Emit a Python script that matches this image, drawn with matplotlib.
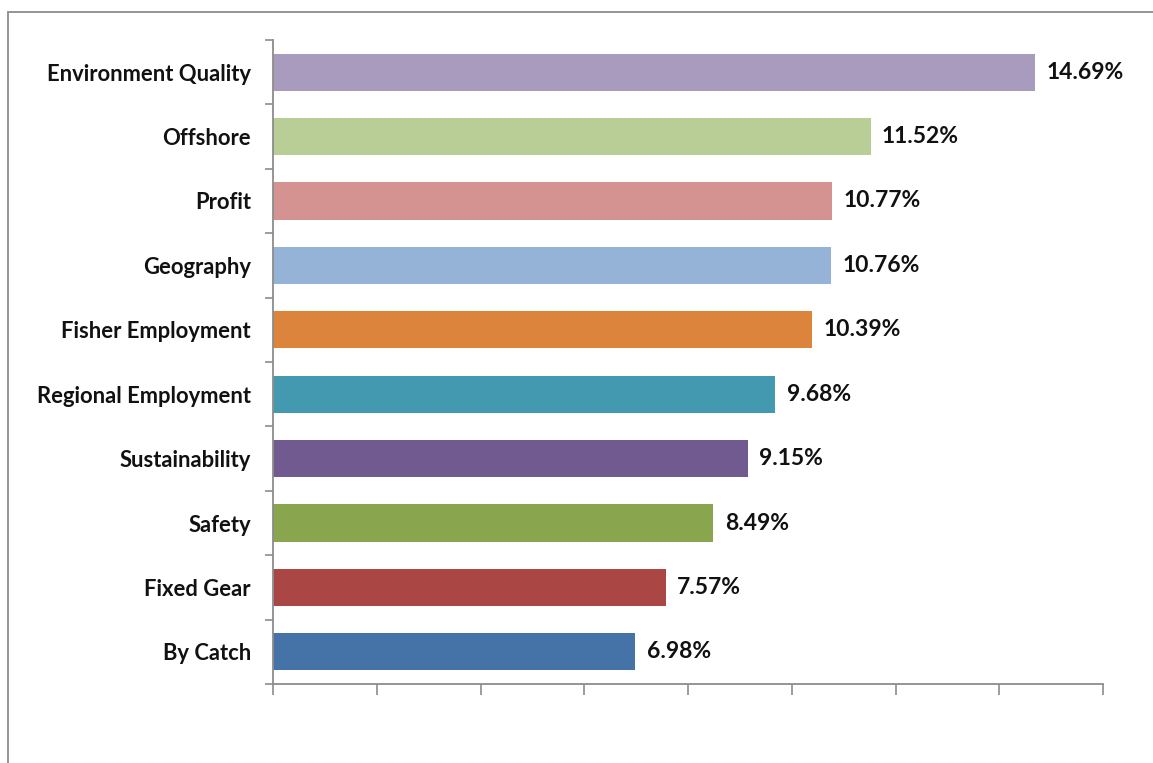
import numpy as np
import matplotlib.pyplot as plt
from matplotlib.patches import Rectangle

# data (top to bottom in the picture)
categories = ["Environment Quality", "Offshore", "Profit", "Geography",
              "Fisher Employment", "Regional Employment", "Sustainability",
              "Safety", "Fixed Gear", "By Catch"]
values = [14.69, 11.52, 10.77, 10.76, 10.39, 9.68, 9.15, 8.49, 7.57, 6.98]
colors = ["#A99BBD", "#B9CD96", "#D49290", "#95B3D7", "#DC843C",
          "#4299B0", "#715A90", "#89A54E", "#AA4643", "#4572A7"]

plt.rcParams['font.family'] = ['Lato', 'DejaVu Sans']

fig = plt.figure(figsize=(11.53, 7.63), dpi=100)
ax = fig.add_axes([273/1153, 1 - 684/763, (1103 - 273)/1153, (684 - 40)/763])

# outer chart frame (cut by right and bottom edge)
fig.patches.append(Rectangle((8/1153, -0.05), 1.2, 1 - 12/763 + 0.05,
                             transform=fig.transFigure, fill=False,
                             edgecolor='#8c8c8c', linewidth=1.3))

n = len(categories)
ypos = np.arange(n)[::-1]
ax.barh(ypos, values, height=0.58, color=colors, zorder=2)

for y, v in zip(ypos, values):
    ax.text(v + 0.22, y, f"{v:.2f}%", va='center', ha='left',
            fontsize=16.5, fontweight='bold', color='#111111')

ax.set_xlim(0, 16)
ax.set_ylim(-0.5, n - 0.5)
ax.set_xticks(np.arange(0, 17, 2))
ax.set_xticklabels([])
ax.set_yticks(ypos)
ax.set_yticklabels(categories, fontsize=15.8, fontweight='bold', color='#111111')
ax.set_yticks(np.arange(-0.5, n, 1), minor=True)
ax.tick_params(axis='y', which='major', length=0, pad=16)
ax.tick_params(axis='y', which='minor', length=6, width=1.2, color='#8c8c8c')
ax.tick_params(axis='x', length=8, width=1.2, color='#8c8c8c')

for s in ['top', 'right']:
    ax.spines[s].set_visible(False)
for s in ['left', 'bottom']:
    ax.spines[s].set_color('#8c8c8c')
    ax.spines[s].set_linewidth(1.3)

fig.savefig("out.png", dpi=100)
